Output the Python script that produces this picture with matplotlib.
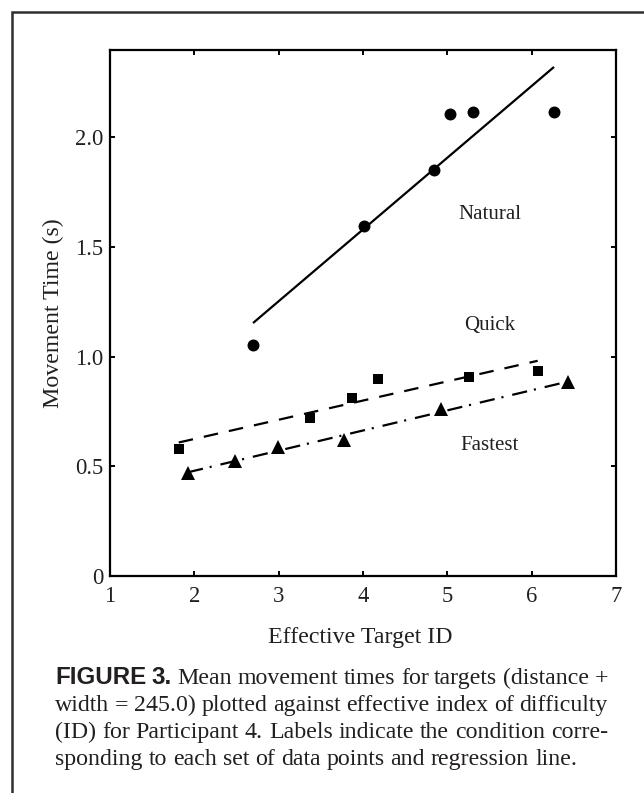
import numpy as np
import matplotlib
matplotlib.use("Agg")
import matplotlib.pyplot as plt
from matplotlib.lines import Line2D

# ---------------- data ----------------
id_natural = [2.696, 4.011, 4.843, 5.028, 5.300, 6.265]
mt_natural = [1.053, 1.595, 1.850, 2.104, 2.116, 2.116]

id_quick = [1.815, 3.368, 3.866, 4.178, 5.261, 6.071]
mt_quick = [0.577, 0.720, 0.810, 0.897, 0.908, 0.936]

id_fastest = [1.925, 2.478, 2.992, 3.775, 4.921, 6.427]
mt_fastest = [0.468, 0.524, 0.589, 0.620, 0.760, 0.883]

condition_names = ["Natural", "Quick", "Fastest"]

x_ticks = [1, 2, 3, 4, 5, 6, 7]
x_tick_labels = ["1", "2", "3", "4", "5", "6", "7"]
y_ticks = [0, 0.5, 1.0, 1.5, 2.0]
y_tick_labels = ["0", "0.5", "1.0", "1.5", "2.0"]

x_label = "Effective Target ID"
y_label = "Movement Time (s)"

caption_head = ["FIGURE", "3."]
caption_lines = [
    "Mean movement times for targets (distance +",
    "width = 245.0) plotted against effective index of difficulty",
    "(ID) for Participant 4. Labels indicate the condition corre-",
    "sponding to each set of data points and regression line.",
]

# ---------------- figure ----------------
W, H = 644, 793
plt.rcParams["lines.scale_dashes"] = False
fig = plt.figure(figsize=(W / 100, H / 100), dpi=100)
fig.patch.set_facecolor("white")

def fx(px):
    return px / W

def fy(py):
    return 1 - py / H

ink = "#231f20"
serif = ["Liberation Serif", "DejaVu Serif"]

ax = fig.add_axes([fx(110), fy(576), (616 - 110) / W, (576 - 50) / H])
ax.set_xlim(1, 7)
ax.set_ylim(0, 2.398)

series = [
    (id_natural, mt_natural, "o", 8.6, "-"),
    (id_quick, mt_quick, "s", 7.4, (0, (10.5, 8))),
    (id_fastest, mt_fastest, "^", 9.6, (0, (11, 5, 1.5, 6.5))),
]
for xs, ys, mk, ms, ls in series:
    xs = np.asarray(xs)
    ys = np.asarray(ys)
    slope, icpt = np.polyfit(xs, ys, 1)
    xl = np.array([xs.min(), xs.max()])
    ax.plot(xl, slope * xl + icpt, color="black", lw=1.6, linestyle=ls,
            dash_capstyle="butt", solid_capstyle="butt", zorder=2)
    ax.plot(xs, ys, linestyle="none", marker=mk, markersize=ms,
            color="black", markeredgewidth=0, zorder=3)

label_xy = [(5.506, 1.646), (5.506, 1.144), (5.506, 0.597)]
for name, (lx, ly) in zip(condition_names, label_xy):
    ax.text(lx, ly, name, ha="center", va="center", fontsize=15,
            family=serif, color=ink)

ax.set_xticks(x_ticks)
ax.set_xticklabels(x_tick_labels)
ax.set_yticks(y_ticks)
ax.set_yticklabels(y_tick_labels)
for lab in ax.get_xticklabels() + ax.get_yticklabels():
    lab.set_family(serif)
    lab.set_fontsize(16.3)
    lab.set_color(ink)
ax.tick_params(axis="both", direction="in", length=3.6, width=1.4,
               top=True, right=True, colors="black", labelcolor=ink)
ax.tick_params(axis="x", pad=7.5)
ax.tick_params(axis="y", pad=5)
for sp in ax.spines.values():
    sp.set_linewidth(1.6)
    sp.set_color("black")

ax.set_xlabel(x_label, fontsize=17.2, family=serif, color=ink)
ax.xaxis.set_label_coords(0.494, (576 - 643) / 526)
ax.xaxis.label.set_verticalalignment("baseline")
ax.set_ylabel(y_label, fontsize=17.2, family=serif, color=ink)
ax.yaxis.set_label_coords((53.5 - 110) / 506, 0.5)
ax.yaxis.label.set_verticalalignment("center")

# ---------------- caption ----------------
renderer = fig.canvas.get_renderer()
cap_size = 17.2
bold_props = dict(family=["Liberation Sans", "DejaVu Sans"], fontweight="bold",
                  fontsize=17.4, color=ink)
reg_props = dict(family=serif, fontsize=cap_size, color=ink)

def place_line(tokens, x0, x1, y_base, justify=True):
    texts, widths = [], []
    for word, props in tokens:
        t = fig.text(0, fy(y_base), word, ha="left", va="baseline", **props)
        widths.append(t.get_window_extent(renderer).width)
        texts.append(t)
    if justify and len(tokens) > 1:
        gap = (x1 - x0 - sum(widths)) / (len(tokens) - 1)
    else:
        gap = 0.25 * cap_size * 100 / 72
    x = x0
    for t, w in zip(texts, widths):
        t.set_x(fx(x))
        x += w + gap

cap_left, cap_right = 55, 608
baselines = [684, 711, 738, 765]
for i, line in enumerate(caption_lines):
    toks = [(w, reg_props) for w in line.split(" ")]
    if i == 0:
        toks = [(w, bold_props) for w in caption_head] + toks
    place_line(toks, cap_left, cap_right, baselines[i],
               justify=(i < len(caption_lines) - 1))

# ---------------- page frame ----------------
fig.add_artist(Line2D([fx(12), fx(12), 1.0], [0.0, fy(12), fy(12)],
                      transform=fig.transFigure, lw=1.8, color="#2e2e2e",
                      solid_joinstyle="miter"))

fig.savefig("out.png", dpi=100, facecolor="white")
